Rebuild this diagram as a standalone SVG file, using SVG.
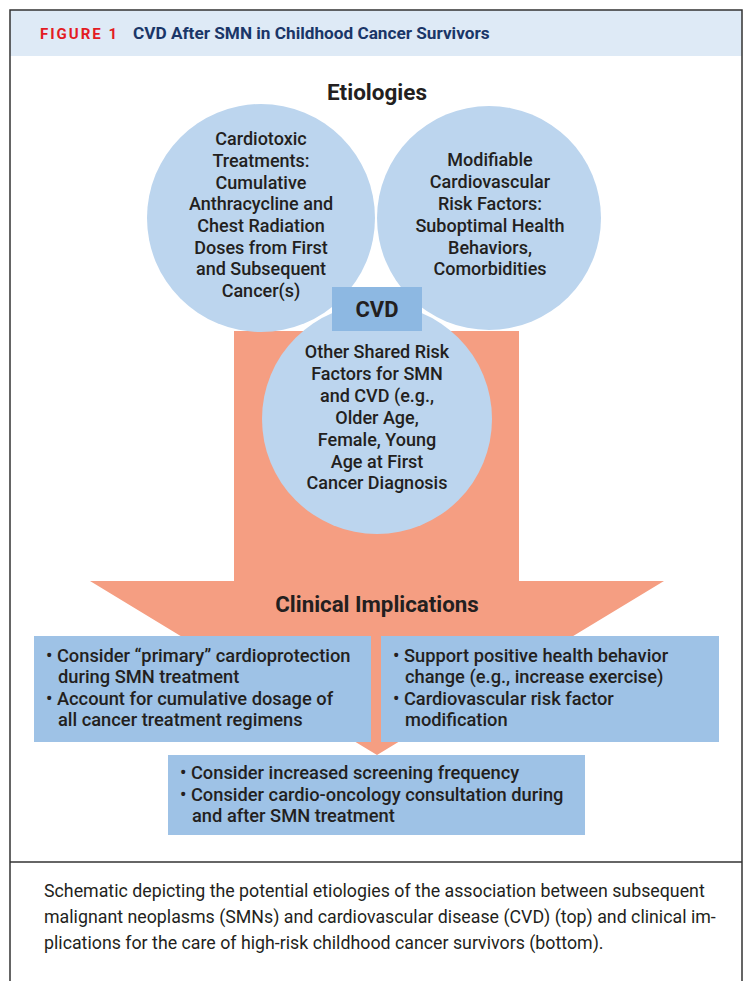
<svg xmlns="http://www.w3.org/2000/svg" width="746" height="981" viewBox="0 0 746 981">
<style>
.t{font-family:Roboto,"Liberation Sans",sans-serif;fill:#231f20;font-size:18px;font-weight:500;text-anchor:middle}
.b{font-family:Roboto,"Liberation Sans",sans-serif;fill:#231f20;font-size:18.3px;font-weight:500}
.h{font-family:Roboto,"Liberation Sans",sans-serif;fill:#231f20;font-weight:700;text-anchor:middle}
.circ{fill:#bcd5ee}
.box{fill:#9ec2e6}
.cap{font-family:Roboto,"Liberation Sans",sans-serif;fill:#231f20;font-size:17.8px}
</style>
<rect x="0" y="0" width="746" height="981" fill="#ffffff"/>
<g id="frame">
<rect x="10" y="10" width="732" height="46" fill="#deeaf6"/>
<path d="M10 981 V10 H742 V981" fill="none" stroke="#333" stroke-width="1.5"/>
<line x1="10" y1="862" x2="742" y2="862" stroke="#333" stroke-width="1.5"/>
<text x="40" y="39" font-family="Roboto,'Liberation Sans',sans-serif" font-size="15" font-weight="700" fill="#e31b23" letter-spacing="2">FIGURE 1</text>
<text x="133" y="39" font-family="Roboto,'Liberation Sans',sans-serif" font-size="17.2" font-weight="700" fill="#1a3668">CVD After SMN in Childhood Cancer Survivors</text>
</g>
<g id="connectors">
<path d="M234 331 H519 V581 H664 L377 755 L90 581 H234 Z" fill="#f59e82"/>
</g>
<g id="etiologies-title"><text class="h" x="377" y="100" font-size="22.5">Etiologies</text></g>
<g id="cardiotoxic">
<circle class="circ" cx="261" cy="218" r="114"/>
<text class="t" x="261" y="145">Cardiotoxic</text>
<text class="t" x="261" y="167">Treatments:</text>
<text class="t" x="261" y="189">Cumulative</text>
<text class="t" x="261" y="210">Anthracycline and</text>
<text class="t" x="261" y="232">Chest Radiation</text>
<text class="t" x="261" y="254">Doses from First</text>
<text class="t" x="261" y="275">and Subsequent</text>
<text class="t" x="261" y="297">Cancer(s)</text>
</g>
<g id="modifiable">
<circle class="circ" cx="489" cy="218" r="112"/>
<text class="t" x="490" y="166">Modifiable</text>
<text class="t" x="490" y="188">Cardiovascular</text>
<text class="t" x="490" y="210">Risk Factors:</text>
<text class="t" x="490" y="232">Suboptimal Health</text>
<text class="t" x="490" y="254">Behaviors,</text>
<text class="t" x="490" y="275">Comorbidities</text>
</g>
<g id="shared">
<circle class="circ" cx="377" cy="419" r="115"/>
<text class="t" x="377" y="358">Other Shared Risk</text>
<text class="t" x="377" y="380">Factors for SMN</text>
<text class="t" x="377" y="402">and CVD (e.g.,</text>
<text class="t" x="377" y="424">Older Age,</text>
<text class="t" x="377" y="446">Female, Young</text>
<text class="t" x="377" y="468">Age at First</text>
<text class="t" x="377" y="489">Cancer Diagnosis</text>
</g>
<g id="cvd">
<rect x="332" y="287" width="90" height="44" fill="#8db8e2"/>
<text class="h" x="377" y="317" font-size="22">CVD</text>
</g>
<g id="clinical-title"><text class="h" x="377" y="612" font-size="22.3">Clinical Implications</text></g>
<g id="box-left">
<rect class="box" x="34" y="636" width="337" height="106"/>
<text class="b" x="46" y="662">• Consider “primary” cardioprotection</text>
<text class="b" x="58" y="683">during SMN treatment</text>
<text class="b" x="46" y="705">• Account for cumulative dosage of</text>
<text class="b" x="58" y="726">all cancer treatment regimens</text>
</g>
<g id="box-right">
<rect class="box" x="381" y="636" width="338" height="106"/>
<text class="b" x="393" y="662">• Support positive health behavior</text>
<text class="b" x="405" y="683">change (e.g., increase exercise)</text>
<text class="b" x="393" y="705">• Cardiovascular risk factor</text>
<text class="b" x="405" y="726">modification</text>
</g>
<g id="box-bottom">
<rect class="box" x="168" y="755" width="417" height="80"/>
<text class="b" x="180" y="779">• Consider increased screening frequency</text>
<text class="b" x="180" y="801">• Consider cardio-oncology consultation during</text>
<text class="b" x="192" y="822">and after SMN treatment</text>
</g>
<g id="caption">
<text class="cap" x="44" y="897">Schematic depicting the potential etiologies of the association between subsequent</text>
<text class="cap" x="44" y="923">malignant neoplasms (SMNs) and cardiovascular disease (CVD) (top) and clinical im-</text>
<text class="cap" x="44" y="949">plications for the care of high-risk childhood cancer survivors (bottom).</text>
</g>
</svg>
